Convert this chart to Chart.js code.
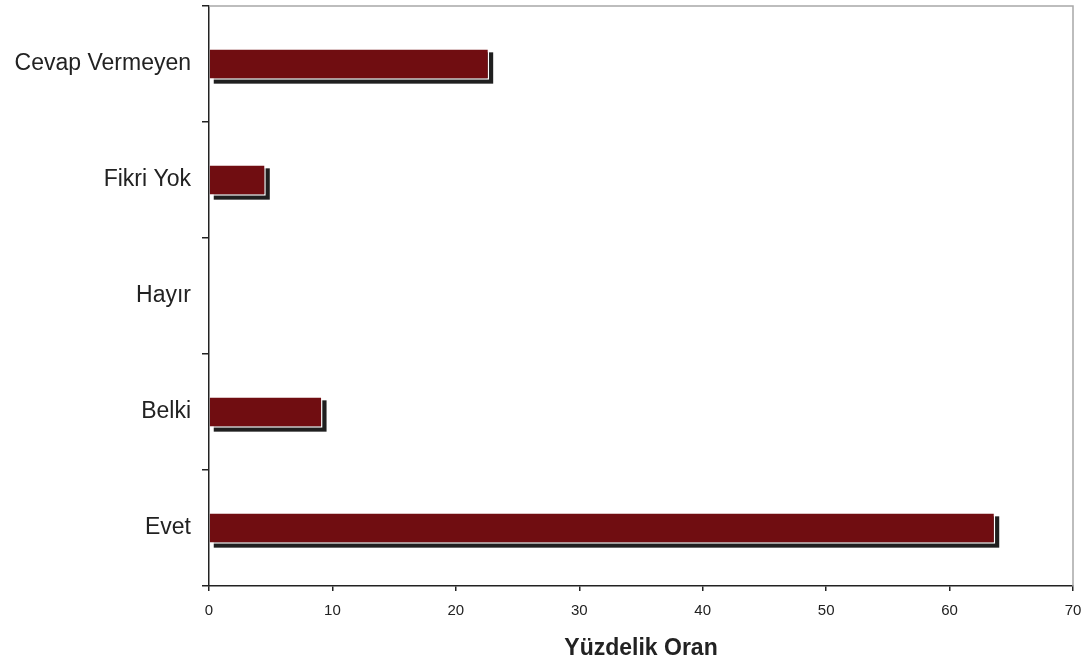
<!DOCTYPE html>
<html>
<head>
<meta charset="utf-8">
<script src="https://cdn.jsdelivr.net/npm/chart.js@4/dist/chart.umd.min.js"></script>
<style>
  html, body { margin: 0; padding: 0; background: #ffffff; }
  #wrap { width: 1088px; height: 664px; position: relative; }
</style>
</head>
<body>
<div id="wrap"><canvas id="answer-chart"></canvas></div>
<script>
// Answer categories (top to bottom as in the picture)
const categories = ['Cevap Vermeyen', 'Fikri Yok', 'Hayır', 'Belki', 'Evet'];
// Percentage for each answer
const percentValues = [22.7, 4.6, 0, 9.2, 63.7];
// x axis range
const xTicks = [0, 10, 20, 30, 40, 50, 60, 70];

const fontFamily = '"Liberation Sans", Arial, sans-serif';

// Draws the dark drop shadow behind every bar
const barShadow = {
  id: 'barShadow',
  beforeDatasetsDraw(chart) {
    const ctx = chart.ctx;
    const meta = chart.getDatasetMeta(0);
    ctx.save();
    ctx.fillStyle = '#1f1f1f';
    meta.data.forEach((bar, i) => {
      if (!percentValues[i]) return;
      const p = bar.getProps(['x', 'y', 'base', 'height'], true);
      const left = Math.min(p.base, p.x);
      const w = Math.abs(p.x - p.base);
      ctx.fillRect(left + 4, p.y - p.height / 2 + 4, w, p.height);
    });
    ctx.restore();
  }
};

// Light grey frame on the top and right of the plot
const plotFrame = {
  id: 'plotFrame',
  afterDraw(chart) {
    const { ctx, chartArea } = chart;
    ctx.save();
    ctx.strokeStyle = '#a8a8a8';
    ctx.lineWidth = 1.5;
    ctx.beginPath();
    ctx.moveTo(chartArea.left, chartArea.top);
    ctx.lineTo(chartArea.right, chartArea.top);
    ctx.lineTo(chartArea.right, chartArea.bottom);
    ctx.stroke();
    ctx.restore();
  }
};

const ctx = document.getElementById('answer-chart').getContext('2d');
new Chart(ctx, {
  type: 'bar',
  data: {
    labels: categories,
    datasets: [{
      data: percentValues,
      backgroundColor: '#700d11',
      borderColor: '#ffffff',
      borderWidth: 1.5,
      borderSkipped: 'start',
      barPercentage: 0.27,
      categoryPercentage: 1
    }]
  },
  options: {
    indexAxis: 'y',
    responsive: true,
    maintainAspectRatio: false,
    animation: false,
    layout: { padding: { top: 6, right: 15, left: 0, bottom: 0 } },
    plugins: {
      legend: { display: false },
      tooltip: { enabled: false }
    },
    scales: {
      x: {
        min: xTicks[0],
        max: xTicks[xTicks.length - 1],
        afterFit: (scale) => {
          scale.height = 78;
          scale.paddingLeft = 0;
          scale.paddingRight = 0;
        },
        ticks: {
          stepSize: 10,
          color: '#222222',
          padding: 11,
          font: { family: fontFamily, size: 15 }
        },
        grid: { drawOnChartArea: false, tickLength: 5, color: '#222222', lineWidth: 1.5 },
        border: { color: '#222222', width: 1.5 },
        title: {
          display: true,
          text: 'Yüzdelik Oran',
          color: '#222222',
          font: { family: fontFamily, size: 23, weight: 'bold' },
          padding: { top: 0, bottom: 2 }
        }
      },
      y: {
        afterFit: (scale) => {
          scale.width = 209;
          scale.paddingTop = 0;
          scale.paddingBottom = 0;
        },
        ticks: {
          color: '#222222',
          padding: 11,
          font: { family: fontFamily, size: 23 }
        },
        grid: { drawOnChartArea: false, offset: true, tickLength: 7, color: '#222222', lineWidth: 1.5 },
        border: { color: '#222222', width: 1.5 }
      }
    }
  },
  plugins: [barShadow, plotFrame]
});
</script>
</body>
</html>
